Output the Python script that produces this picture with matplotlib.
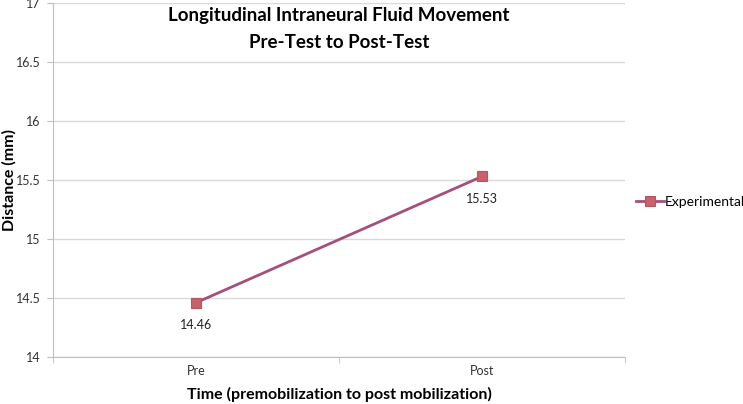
import matplotlib
matplotlib.use("Agg")
import matplotlib.pyplot as plt

categories = ["Pre", "Post"]
values = [14.46, 15.53]
series_name = "Experimental"
yticks = [14, 14.5, 15, 15.5, 16, 16.5, 17]
ytick_labels = ["14", "14.5", "15", "15.5", "16", "16.5", "17"]

plt.rcParams['font.family'] = ['Lato', 'DejaVu Sans']

fig = plt.figure(figsize=(7.43, 4.04), dpi=100)
W, H = 743, 404
ax = fig.add_axes([53 / W, 1 - 357 / H, (625 - 53) / W, (357 - 3) / H])

x = list(range(len(categories)))
ax.plot(x, values, color="#a44f7c", lw=2, marker="s", markersize=7,
        markerfacecolor="#c9606a", markeredgecolor="#b5555e", markeredgewidth=0.8,
        label=series_name, zorder=3)
for xi, v in zip(x, values):
    ax.annotate(f"{v:.2f}", (xi, v), xytext=(0, -12), textcoords="offset points",
                ha="center", va="top", fontsize=9, color="#222222")

ax.set_xlim(-0.5, len(categories) - 0.5)
ax.set_ylim(14, 17)
ax.set_yticks(yticks)
ax.set_yticklabels(ytick_labels)
ax.set_xticks(x)
ax.set_xticklabels(categories)
ax.tick_params(axis="y", length=4, color="#bfbfbf", labelsize=9, labelcolor="#333333", pad=5)
ax.tick_params(axis="x", length=0, labelsize=9, labelcolor="#333333", pad=6)
ax.set_xticks([-0.5, 0.5, 1.5], minor=True)
ax.tick_params(axis="x", which="minor", length=4, color="#bfbfbf")

ax.grid(axis="y", color="#d9d9d9", lw=1)
ax.set_axisbelow(True)
for s in ["top", "right"]:
    ax.spines[s].set_visible(False)
ax.spines["left"].set_color("#bfbfbf")
ax.spines["bottom"].set_color("#bfbfbf")

fig.text(9 / W, 1 - 180 / H, "Distance (mm)", rotation=90, ha="center", va="center",
         fontsize=11.5, fontweight="bold")
fig.text(339 / W, 1 - 394 / H, "Time (premobilization to post mobilization)",
         ha="center", va="center", fontsize=11.5, fontweight="bold")

fig.text(339 / W, 1 - 16 / H, "Longitudinal Intraneural Fluid Movement",
         ha="center", va="center", fontsize=13.5, fontweight="bold")
fig.text(339 / W, 1 - 43 / H, "Pre-Test to Post-Test",
         ha="center", va="center", fontsize=13.5, fontweight="bold")

fig.legend(loc="center left", bbox_to_anchor=(636 / W, 1 - 202 / H), frameon=False,
           fontsize=10, handlelength=2.0, handletextpad=0.1, borderaxespad=0,
           borderpad=0)

fig.savefig("out.png", dpi=100)
